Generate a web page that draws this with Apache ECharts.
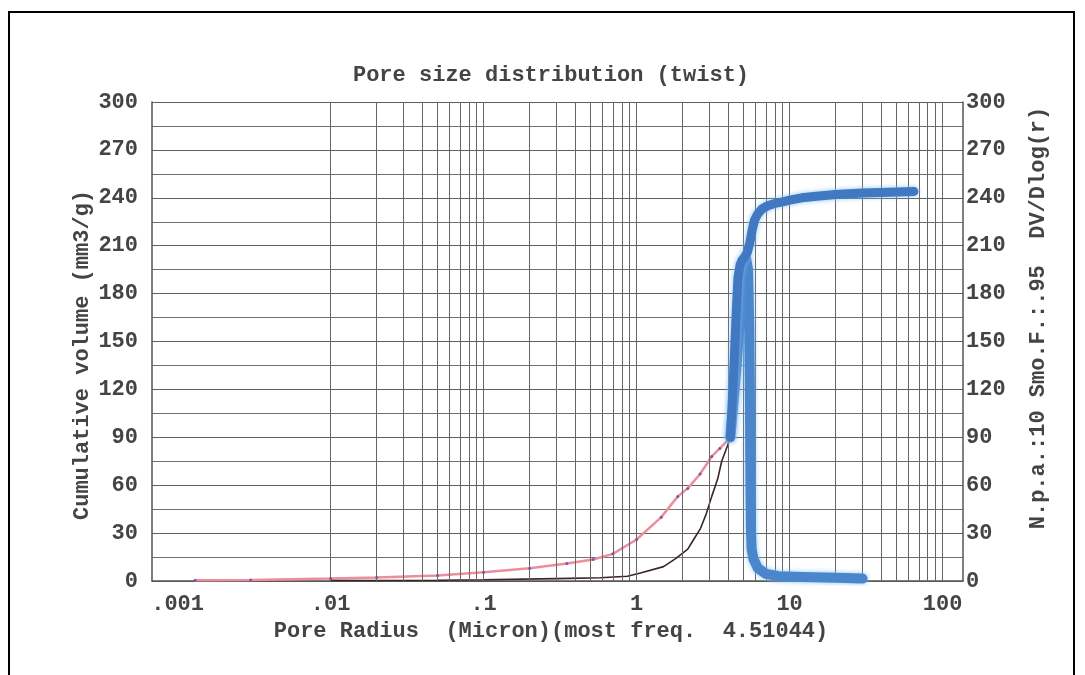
<!DOCTYPE html>
<html>
<head>
<meta charset="utf-8">
<script src="https://cdn.jsdelivr.net/npm/echarts@6/dist/echarts.min.js"></script>
<style>
html,body{margin:0;padding:0;background:#fff;}
#chart{width:1085px;height:675px;}
</style>
</head>
<body>
<div id="chart"></div>
<script>
// ---- data ----
const titleText = 'Pore size distribution (twist)';
const xAxisTitle = 'Pore Radius  (Micron)(most freq.  4.51044)';
const leftAxisTitle = 'Cumulative volume (mm3/g)';
const rightAxisTitle = 'N.p.a.:10 Smo.F.:.95  DV/Dlog(r)';
const xTickLabels = ['.001', '.01', '.1', '1', '10', '100'];

// cumulative volume, fine pores (pink line with purple dots)
const cumFineR = [0.0013, 0.003, 0.01, 0.02, 0.05, 0.1, 0.2, 0.35, 0.52, 0.7, 1.0, 1.45, 1.86, 2.16, 2.6, 3.1, 3.5, 3.94, 4.1];
const cumFineV = [0.5, 0.7, 1.5, 2.2, 3.5, 5.5, 8, 11, 13.5, 17, 26, 40, 53, 58, 67, 78, 83, 88, 91];

// cumulative volume, coarse pores (blue band)
const cumCoarseR = [4.1, 4.2, 4.3, 4.4, 4.5, 4.6, 4.75, 4.9, 5.1, 5.3, 5.5, 5.7, 5.9, 6.2, 6.6, 7.2, 8, 9, 10, 12, 15, 20, 30, 45, 65];
const cumCoarseV = [90, 108, 128, 150, 172, 190, 198, 201, 203, 206, 212, 220, 226, 230, 233, 235, 236.5, 237.5, 238.5, 240, 241, 242, 243, 243.5, 244];

// DV/Dlog(r), fine pores (dark line)
const dvFineR = [0.01, 0.05, 0.1, 0.3, 0.58, 0.87, 1.06, 1.5, 1.8, 2.16, 2.36, 2.62, 2.85, 3.1, 3.39, 3.6, 3.94, 4.1];
const dvFineV = [0.3, 0.5, 0.8, 1.5, 2, 3, 5, 9, 14, 20, 26, 33, 42, 53, 64, 75, 85, 90];

// DV/Dlog(r), around the peak and beyond (blue)
const dvCoarseR = [4.1, 4.3, 4.5, 4.7, 4.9, 5.05, 5.2, 5.35, 5.45, 5.5, 5.55, 5.6, 5.65, 5.8, 6.2, 7.0, 8.5, 12, 20, 30];
const dvCoarseV = [90, 112, 135, 160, 185, 198, 202, 195, 160, 120, 60, 30, 20, 14, 8, 4.5, 3, 2.5, 2, 1.5];

// ---- build ----
const zip = (a, b) => a.map((v, i) => [v, b[i]]);
const minorX = [];
for (let e = -4; e <= 2; e++) {
  for (let d = 1; d <= 9; d++) {
    const v = d * Math.pow(10, e);
    if (v > 0.00068 && v < 136) minorX.push({ xAxis: v });
  }
}
const font = 'Liberation Mono, DejaVu Sans Mono, monospace';
const txtColor = '#444';
const chart = echarts.init(document.getElementById('chart'));
chart.setOption({
  animation: false,
  backgroundColor: '#fff',
  grid: { left: 152, right: 122, top: 102, bottom: 94 },
  xAxis: {
    type: 'log',
    logBase: 10,
    min: 0.00068,
    max: 136,
    axisLine: { show: true, lineStyle: { color: '#555', width: 1.5 } },
    axisTick: { show: false },
    splitLine: { show: false },
    axisLabel: {
      showMinLabel: false,
      showMaxLabel: false,
      margin: 12,
      color: txtColor,
      fontWeight: 'bold',
      fontFamily: font,
      fontSize: 22,
      formatter: v => xTickLabels[Math.round(Math.log10(v)) + 3] || ''
    }
  },
  yAxis: [
    {
      type: 'value', min: 0, max: 300, interval: 30, position: 'left',
      axisLine: { show: true, lineStyle: { color: '#555', width: 1.5 } },
      axisTick: { show: false },
      axisLabel: { color: txtColor, fontWeight: 'bold', fontFamily: font, fontSize: 22, margin: 14 },
      splitLine: { show: true, lineStyle: { color: '#5e5e5e', width: 1 } },
      minorTick: { show: false, splitNumber: 2 },
      minorSplitLine: { show: true, lineStyle: { color: '#707070', width: 1 } }
    },
    {
      type: 'value', min: 0, max: 300, interval: 30, position: 'right',
      axisLine: { show: true, lineStyle: { color: '#555', width: 1.5 } },
      axisTick: { show: false },
      axisLabel: { color: txtColor, fontWeight: 'bold', fontFamily: font, fontSize: 22, margin: 3 },
      splitLine: { show: false }
    }
  ],
  graphic: [
    { type: 'rect', shape: { x: 9, y: 12, width: 1065, height: 720 }, style: { fill: 'none', stroke: '#000', lineWidth: 2 }, silent: true },
    { type: 'text', x: 551, y: 75, style: { text: titleText, font: 'bold 22px ' + font, fill: txtColor, textAlign: 'center', textVerticalAlign: 'middle' } },
    { type: 'text', x: 551, y: 631, style: { text: xAxisTitle, font: 'bold 22px ' + font, fill: txtColor, textAlign: 'center', textVerticalAlign: 'middle' } },
    { type: 'text', x: 82, y: 355, rotation: Math.PI / 2, style: { text: leftAxisTitle, font: 'bold 22px ' + font, fill: txtColor, textAlign: 'center', textVerticalAlign: 'middle' } },
    { type: 'text', x: 1038, y: 318, rotation: Math.PI / 2, style: { text: rightAxisTitle, font: 'bold 22px ' + font, fill: txtColor, textAlign: 'center', textVerticalAlign: 'middle' } }
  ],
  series: [
    {
      name: 'grid', type: 'line', data: [], z: 1, silent: true,
      markLine: { silent: true, symbol: 'none', label: { show: false }, lineStyle: { color: '#666', width: 1, type: 'solid' }, data: minorX, animation: false }
    },
    {
      name: 'Cumulative (fine)', type: 'line', yAxisIndex: 0, z: 3,
      data: zip(cumFineR, cumFineV),
      showSymbol: true, symbol: 'circle', symbolSize: 3,
      itemStyle: { color: '#7a5aa8' },
      lineStyle: { color: '#ec8e9c', width: 2.5 }
    },
    {
      name: 'DV/Dlog (fine)', type: 'line', yAxisIndex: 1, z: 4,
      data: zip(dvFineR, dvFineV),
      showSymbol: false,
      lineStyle: { color: '#3a2424', width: 1.6 }
    },
    {
      name: 'DV/Dlog (coarse)', type: 'line', yAxisIndex: 1, z: 5,
      data: zip(dvCoarseR, dvCoarseV),
      showSymbol: false,
      lineStyle: { color: '#4a86cc', width: 10, shadowColor: 'rgba(130,190,240,0.9)', shadowBlur: 5, join: 'round', cap: 'round' }
    },
    {
      name: 'Cumulative (coarse)', type: 'line', yAxisIndex: 0, z: 6,
      data: zip(cumCoarseR, cumCoarseV),
      showSymbol: false,
      lineStyle: { color: '#4178c2', width: 9, shadowColor: 'rgba(130,190,240,0.9)', shadowBlur: 5, join: 'round', cap: 'round' }
    }
  ]
});
</script>
</body>
</html>
